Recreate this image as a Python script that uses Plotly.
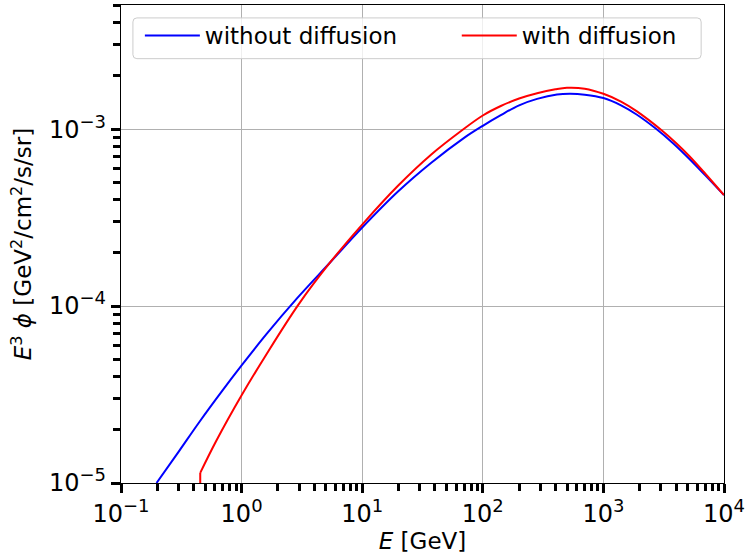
import plotly.graph_objects as go

# Data
E_without = [0.197, 0.30, 0.448, 0.70, 1.0, 1.6, 2.89, 5.44, 10, 19.8, 37.4, 70, 100, 141, 200, 282, 412, 531,
             700, 1000, 1400, 1884, 2750, 3800, 5170, 7000, 10000]
phi_without = [1.00e-5, 1.50e-5, 2.22e-5, 3.36e-5, 4.62e-5, 6.92e-5, 1.109e-4, 1.77e-4, 2.78e-4, 4.44e-4,
               6.46e-4, 8.93e-4, 1.045e-3, 1.20e-3, 1.364e-3, 1.483e-3, 1.57e-3, 1.585e-3, 1.567e-3,
               1.50e-3, 1.364e-3, 1.211e-3, 1.002e-3, 8.3e-4, 6.78e-4, 5.48e-4, 4.24e-4]

# cutoff edge of the "with diffusion" curve
E_cut = [0.454, 0.454]
phi_cut = [1.0e-5, 1.14e-5]

E_with = [0.454, 0.614, 1.0, 1.585, 2.98, 5.44, 10, 19.8, 37.4, 66, 100, 141, 200, 282, 400, 498, 700,
          1000, 1400, 1884, 3020, 4000, 5170, 7000, 10000]
phi_with = [1.14e-5, 1.72e-5, 3.13e-5, 5.26e-5, 1.026e-4, 1.77e-4, 2.89e-4, 4.79e-4, 7.2e-4, 9.77e-4,
            1.195e-3, 1.352e-3, 1.49e-3, 1.596e-3, 1.68e-3, 1.714e-3, 1.694e-3, 1.585e-3, 1.432e-3,
            1.264e-3, 9.89e-4, 8.35e-4, 7.03e-4, 5.6e-4, 4.24e-4]

SUP = "<sup><span style='font-size:18px'>{}</span></sup>"
x_tickvals = [1e-1, 1e0, 1e1, 1e2, 1e3, 1e4]
x_ticktext = ["10" + SUP.format(s) for s in ["−1", "0", "1", "2", "3", "4"]]
y_tickvals = [1e-5, 1e-4, 1e-3]
y_ticktext = ["10" + SUP.format(s) for s in ["−5", "−4", "−3"]]

FONT = "DejaVu Sans"
FS = 23
TFS = 24

fig = go.Figure()
fig.add_trace(go.Scatter(x=E_without, y=phi_without, mode="lines", name="without diffusion",
                         legend="legend",
                         line=dict(color="#0000ff", width=2, shape="spline", smoothing=1.0)))
fig.add_trace(go.Scatter(x=E_with, y=phi_with, mode="lines", name="with diffusion",
                         legend="legend2", legendgroup="with",
                         line=dict(color="#ff0000", width=2, shape="spline", smoothing=1.0)))
fig.add_trace(go.Scatter(x=E_cut, y=phi_cut, mode="lines", name="with diffusion",
                         legendgroup="with", showlegend=False,
                         line=dict(color="#ff0000", width=2)))

axis_common = dict(
    type="log",
    showline=True, mirror=True, linecolor="black", linewidth=1.25,
    showgrid=True, gridcolor="#b0b0b0", gridwidth=1,
    ticks="outside", ticklen=9, tickwidth=2.5, tickcolor="black",
    tickfont=dict(family=FONT, size=TFS, color="black"),
    zeroline=False,
    minor=dict(ticks="outside", ticklen=7, tickwidth=2.5, tickcolor="black", dtick="D1", showgrid=False),
)

# legend frame (rounded box), in paper coordinates
L, R, T, B = 121, 728, 4, 485
def px(x):
    return (x - L) / (R - L)
def py(y):
    return (B - y) / (B - T)
x0, x1, y0, y1 = px(133), px(705), py(58), py(17)
rx, ry = 4 / (R - L), 4 / (B - T)
frame = (f"M{x0+rx},{y0} L{x1-rx},{y0} Q{x1},{y0} {x1},{y0+ry} L{x1},{y1-ry} Q{x1},{y1} {x1-rx},{y1} "
         f"L{x0+rx},{y1} Q{x0},{y1} {x0},{y1-ry} L{x0},{y0+ry} Q{x0},{y0} {x0+rx},{y0} Z")

fig.update_layout(
    width=749, height=554,
    margin=dict(l=L, r=749 - R, t=T, b=554 - B),
    paper_bgcolor="white", plot_bgcolor="white",
    font=dict(family=FONT, size=FS, color="black"),
    xaxis=dict(**axis_common, range=[-1, 4], tickmode="array", tickvals=x_tickvals, ticktext=x_ticktext,
               title=dict(text="<i>E</i> [GeV]", font=dict(family=FONT, size=FS), standoff=6)),
    yaxis=dict(**axis_common, range=[-5, -2.298], tickmode="array", tickvals=y_tickvals, ticktext=y_ticktext,
               title=dict(text="<i>E</i><sup>3</sup> <i>ϕ</i> [GeV<sup>2</sup>/cm<sup>2</sup>/s/sr]",
                          font=dict(family=FONT, size=FS), standoff=10)),
    legend=dict(x=px(140), y=py(13), xanchor="left", yanchor="top",
                bgcolor="rgba(0,0,0,0)", borderwidth=0, itemwidth=55,
                font=dict(family=FONT, size=FS)),
    legend2=dict(x=px(459), y=py(13), xanchor="left", yanchor="top",
                 bgcolor="rgba(0,0,0,0)", borderwidth=0, itemwidth=55,
                 font=dict(family=FONT, size=FS)),
    shapes=[dict(type="path", path=frame, xref="paper", yref="paper", layer="above",
                 line=dict(color="#cccccc", width=1), fillcolor="rgba(255,255,255,0.8)")],
    showlegend=True,
)

fig.write_html("out.html")
